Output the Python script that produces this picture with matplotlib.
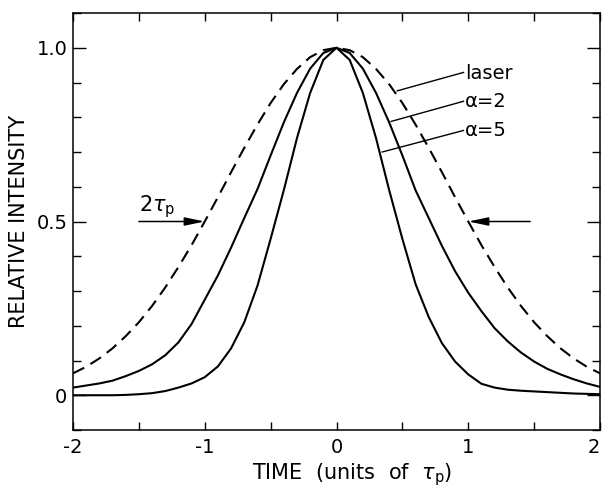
import numpy as np
import matplotlib
matplotlib.use("Agg")
import matplotlib.pyplot as plt
from matplotlib.ticker import MultipleLocator, FixedLocator

plt.rcParams['font.family'] = ['DejaVu Sans']
plt.rcParams['axes.unicode_minus'] = False

# time in units of tau_p
t = [-2.0, -1.9, -1.8, -1.7, -1.6, -1.5, -1.4, -1.3, -1.2, -1.1, -1.0,
     -0.9, -0.8, -0.7, -0.6, -0.5, -0.4, -0.3, -0.2, -0.1, 0.0,
     0.1, 0.2, 0.3, 0.4, 0.5, 0.6, 0.7, 0.8, 0.9, 1.0,
     1.1, 1.2, 1.3, 1.4, 1.5, 1.6, 1.7, 1.8, 1.9, 2.0]

laser = [0.063, 0.082, 0.106, 0.135, 0.170, 0.210, 0.257, 0.310, 0.369, 0.432, 0.500,
         0.570, 0.642, 0.712, 0.779, 0.841, 0.895, 0.939, 0.973, 0.993, 1.000,
         0.993, 0.973, 0.939, 0.895, 0.841, 0.779, 0.712, 0.642, 0.570, 0.500,
         0.432, 0.369, 0.310, 0.257, 0.210, 0.170, 0.135, 0.106, 0.082, 0.063]

alpha2 = [0.022, 0.028, 0.034, 0.042, 0.055, 0.070, 0.089, 0.115, 0.152, 0.205, 0.275,
          0.345, 0.425, 0.510, 0.593, 0.690, 0.785, 0.870, 0.940, 0.985, 1.000,
          0.985, 0.940, 0.870, 0.785, 0.690, 0.590, 0.510, 0.430, 0.357, 0.295,
          0.242, 0.193, 0.155, 0.123, 0.097, 0.076, 0.060, 0.046, 0.034, 0.024]

alpha5 = [0.000, 0.000, 0.000, 0.000, 0.001, 0.003, 0.006, 0.012, 0.022, 0.034, 0.052,
          0.083, 0.135, 0.210, 0.315, 0.450, 0.590, 0.740, 0.870, 0.965, 1.000,
          0.965, 0.870, 0.740, 0.590, 0.450, 0.320, 0.225, 0.150, 0.097, 0.060,
          0.033, 0.022, 0.016, 0.013, 0.011, 0.009, 0.007, 0.005, 0.004, 0.003]

xticks = [-2, -1, 0, 1, 2]
xticklabels = ['-2', '-1', '0', '1', '2']
yticks = [0, 0.5, 1.0]
yticklabels = ['0', '0.5', '1.0']

fig = plt.figure(figsize=(6.02, 4.88), dpi=100)
ax = fig.add_axes([73/602, 58/488, 527/602, 417/488])

ax.plot(t, laser, color='black', lw=1.5, dashes=(6, 3.5))
ax.plot(t, alpha2, color='black', lw=1.5)
ax.plot(t, alpha5, color='black', lw=1.5)

ax.set_xlim(-2, 2)
ax.set_ylim(-0.1, 1.1)

ax.xaxis.set_major_locator(FixedLocator(xticks))
ax.set_xticklabels(xticklabels)
ax.xaxis.set_minor_locator(MultipleLocator(0.5))
ax.yaxis.set_major_locator(FixedLocator(yticks))
ax.set_yticklabels(yticklabels)
ax.yaxis.set_minor_locator(MultipleLocator(0.1))

ax.tick_params(which='both', direction='in', top=True, right=True, width=1.0,
               labelsize=14)
ax.tick_params(axis='x', which='major', length=6, pad=6)
ax.tick_params(axis='x', which='minor', length=5.5)
ax.tick_params(axis='y', which='major', length=9.5, pad=4)
ax.tick_params(axis='y', which='minor', length=6)
for s in ax.spines.values():
    s.set_linewidth(1.1)
ax.get_xticklabels()[-1].set_horizontalalignment('right')

ax.set_xlabel(r'TIME  (units  of  $\tau_\mathrm{p}$)', fontsize=15, labelpad=3)
ax.xaxis.set_label_coords(0.53, -0.075)
ax.set_ylabel('RELATIVE INTENSITY', fontsize=15, labelpad=5)

# curve labels with leader lines
ax.plot([0.461, 0.964], [0.876, 0.929], color='black', lw=1.0)
ax.text(0.975, 0.927, 'laser', fontsize=14, va='center', ha='left')
ax.plot([0.415, 0.964], [0.788, 0.846], color='black', lw=1.0)
ax.text(0.975, 0.846, 'α=2', fontsize=14, va='center', ha='left')
ax.plot([0.347, 0.964], [0.700, 0.762], color='black', lw=1.0)
ax.text(0.975, 0.762, 'α=5', fontsize=14, va='center', ha='left')

# FWHM arrows
arrow_kw = dict(arrowstyle='-|>,head_length=1.2,head_width=0.25', color='black',
                lw=1.1, shrinkA=0, shrinkB=0)
ax.annotate('', xy=(-1.0, 0.5), xytext=(-1.50, 0.5), arrowprops=arrow_kw)
ax.annotate('', xy=(1.0, 0.5), xytext=(1.47, 0.5), arrowprops=arrow_kw)
ax.text(-1.50, 0.505, r'2$\tau_\mathrm{p}$', fontsize=15, ha='left', va='bottom')

fig.savefig('out.png', dpi=100)
